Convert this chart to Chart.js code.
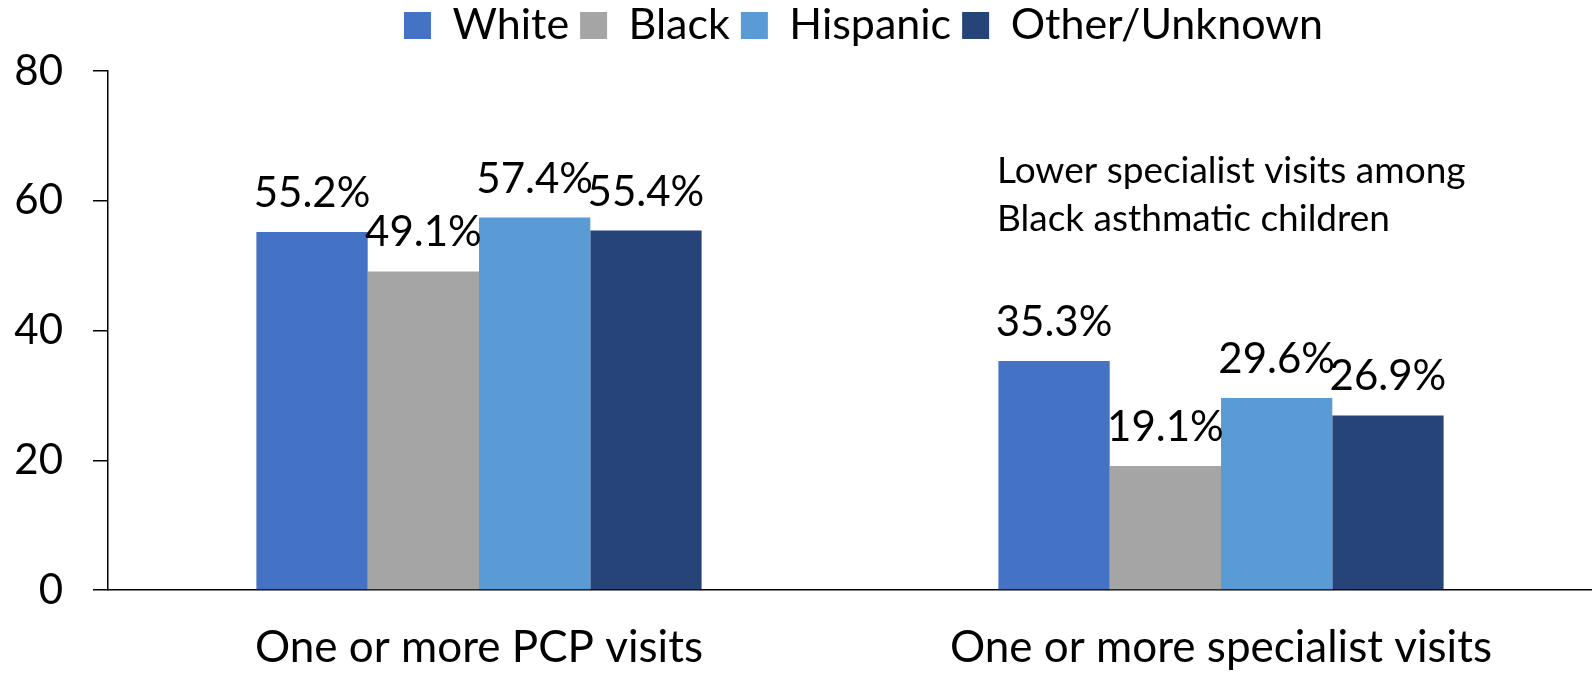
<!DOCTYPE html>
<html>
<head>
<meta charset="utf-8">
<script src="https://cdn.jsdelivr.net/npm/chart.js@4.4.1/dist/chart.umd.min.js"></script>
<style>
  html, body { margin: 0; padding: 0; background: #fff; }
  #wrap { width: 1592px; height: 674px; }
</style>
</head>
<body>
<div id="wrap"><canvas id="chart"></canvas></div>
<script>
const categories = ['One or more PCP visits', 'One or more specialist visits'];
const seriesNames = ['White', 'Black', 'Hispanic', 'Other/Unknown'];
const white = [55.2, 35.3];
const black = [49.1, 19.1];
const hispanic = [57.4, 29.6];
const other = [55.4, 26.9];
const yTicks = [0, 20, 40, 60, 80];
const noteLines = ['Lower specialist visits among', 'Black asthmatic children'];

const colors = ['#4472C4', '#A5A5A5', '#5B9BD5', '#264478'];
const FONT = 'Lato';

// value labels above each bar
const valueLabels = {
    id: 'valueLabels',
    afterDatasetsDraw(chart) {
        const ctx = chart.ctx;
        ctx.save();
        ctx.font = '42px ' + FONT;
        ctx.fillStyle = '#000';
        ctx.textAlign = 'center';
        ctx.textBaseline = 'alphabetic';
        chart.data.datasets.forEach((ds, i) => {
            chart.getDatasetMeta(i).data.forEach((bar, j) => {
                ctx.fillText(ds.data[j].toFixed(1) + '%', bar.x, bar.y - 25);
            });
        });
        ctx.restore();
    }
};

// text note in the right half
const note = {
    id: 'note',
    afterDraw(chart) {
        const ctx = chart.ctx;
        ctx.save();
        ctx.font = '37px ' + FONT;
        ctx.fillStyle = '#000';
        ctx.textAlign = 'left';
        ctx.textBaseline = 'alphabetic';
        noteLines.forEach((t, i) => ctx.fillText(t, 997, 183 + i * 48));
        ctx.restore();
    }
};

// nudge the legend: a bit higher and right of centre like the original
const legendShift = {
    id: 'legendShift',
    afterLayout(chart) {
        const lg = chart.legend;
        lg.top -= 14; lg.bottom -= 14;
        lg.left += 64; lg.right += 64;
    }
};

const data = [white, black, hispanic, other];

new Chart(document.getElementById('chart'), {
    type: 'bar',
    data: {
        labels: categories,
        datasets: seriesNames.map((name, i) => ({
            label: name,
            data: data[i],
            backgroundColor: colors[i],
            borderWidth: 0,
            categoryPercentage: 0.6,
            barPercentage: 1.0
        }))
    },
    options: {
        responsive: true,
        maintainAspectRatio: false,
        animation: false,
        layout: { padding: { left: 0, right: -7, top: 7, bottom: 0 } },
        plugins: {
            legend: {
                position: 'top',
                labels: {
                    font: { family: FONT, size: 43 },
                    color: '#000',
                    boxWidth: 27,
                    boxHeight: 27,
                    padding: 11
                }
            },
            tooltip: { enabled: false }
        },
        scales: {
            x: {
                afterFit(scale) { scale.height = 84; },
                grid: { display: false, drawTicks: false },
                border: { color: '#000', width: 1.5 },
                ticks: { font: { family: FONT, size: 44 }, color: '#000', padding: 31 }
            },
            y: {
                min: 0,
                max: 80,
                afterBuildTicks(scale) {
                    scale.ticks = yTicks.map(v => ({ value: v }));
                },
                afterFit(scale) { scale.width = 108; },
                grid: { drawOnChartArea: false, tickLength: 15, color: '#000', lineWidth: 1.5 },
                border: { color: '#000', width: 1.5 },
                ticks: { font: { family: FONT, size: 42 }, color: '#000', padding: 30 }
            }
        }
    },
    plugins: [valueLabels, note, legendShift]
});
</script>
</body>
</html>
